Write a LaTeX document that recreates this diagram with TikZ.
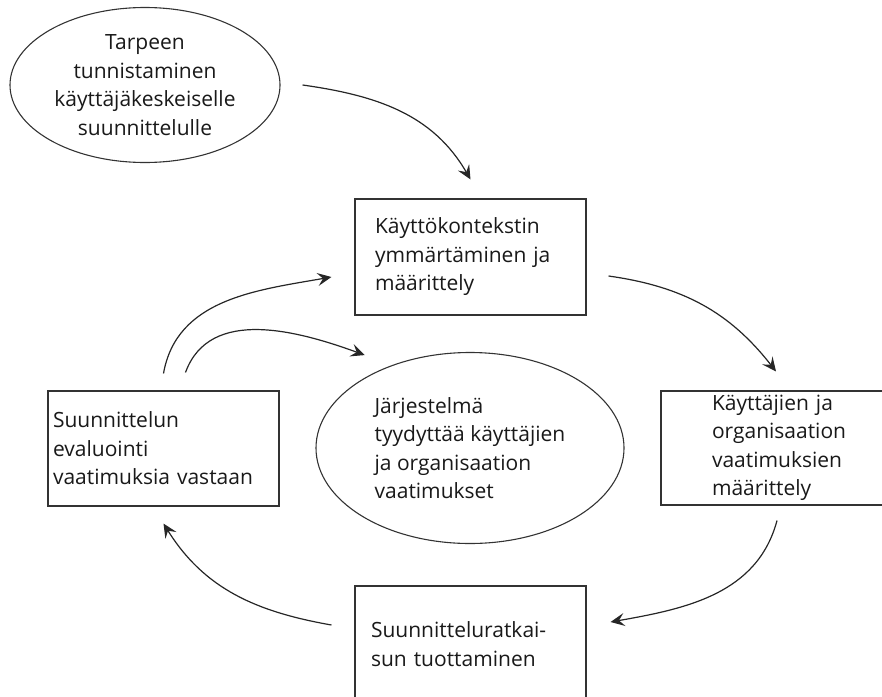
\documentclass[tikz,border=0pt]{standalone}
\usepackage{fontspec}
\setmainfont{Open Sans}
\usetikzlibrary{shapes.geometric,arrows.meta}

\tikzset{
    stage/.style={draw=black!80, line width=1.1pt, rectangle, align=left,
        font=\fontsize{21}{28.5}\selectfont, text=black!90},
    goal/.style={draw=black!80, line width=1.1pt, ellipse, inner sep=0pt,
        font=\fontsize{21}{28.5}\selectfont, text=black!90},
    flow/.style={-{Stealth[length=14pt,width=13pt,inset=5.5pt]}, line width=1.2pt, black!85}
}

\begin{document}
\begin{tikzpicture}[x=1pt,y=1pt]
    \useasboundingbox (0,0) rectangle (882,-696);
    \clip (0,0) rectangle (882,-696);
    \node (need) [goal, align=center, minimum width=270pt, minimum height=155pt] at (145,-85)
        {Tarpeen\\tunnistaminen\\käyttäjäkeskeiselle\\suunnittelulle};
    \node (use_context) [stage, text width=191pt, inner xsep=20pt, minimum height=116pt] at (470.5,-257)
        {Käyttökontekstin\\ymmärtäminen ja\\määrittely};
    \node (user_req) [stage, text width=160pt, inner xsep=51pt, minimum height=114pt] at (792,-448)
        {Käyttäjien ja\\organisaation\\vaatimuksien\\määrittely};     % runs past the right edge
    \node (design_sol) [stage, text width=199pt, inner xsep=16pt, minimum height=116pt] at (470.5,-644)
        {Suunnitteluratkai-\\sun tuottaminen};                       % runs past the bottom edge
    \node (design_eval) [stage, text width=221pt, inner xsep=5pt, minimum height=115pt] at (163.5,-448.5)
        {Suunnittelun\\evaluointi\\vaatimuksia vastaan};
    \node (sys_goal) [goal, align=left, minimum width=308pt, minimum height=191pt] at (470,-448)
        {Järjestelmä\\tyydyttää käyttäjien\\ja organisaation\\vaatimukset};

    % the loop
    \draw [flow] ([xshift=22pt]need.east) to [out=-8,in=120] ([yshift=19pt]use_context.north);
    \draw [flow] ([xshift=22pt,yshift=-19pt]use_context.east) to [out=-8,in=128] ([xshift=-16pt,yshift=19pt]user_req.north);
    \draw [flow] ([xshift=-15pt,yshift=-15pt]user_req.south) to [out=-105,in=10] ([xshift=24pt,yshift=22pt]design_sol.east);
    \draw [flow] ([xshift=-23pt,yshift=19pt]design_sol.west) to [out=170,in=-58] ([yshift=-17pt]design_eval.south);
    \draw [flow] ([yshift=17pt]design_eval.north) to [out=80,in=190] ([xshift=-23pt,yshift=-20pt]use_context.west);
    \draw [flow] ([xshift=22pt,yshift=18pt]design_eval.north) to [out=70,in=160] ([xshift=4pt,yshift=25pt]sys_goal.north west);
\end{tikzpicture}
\end{document}
